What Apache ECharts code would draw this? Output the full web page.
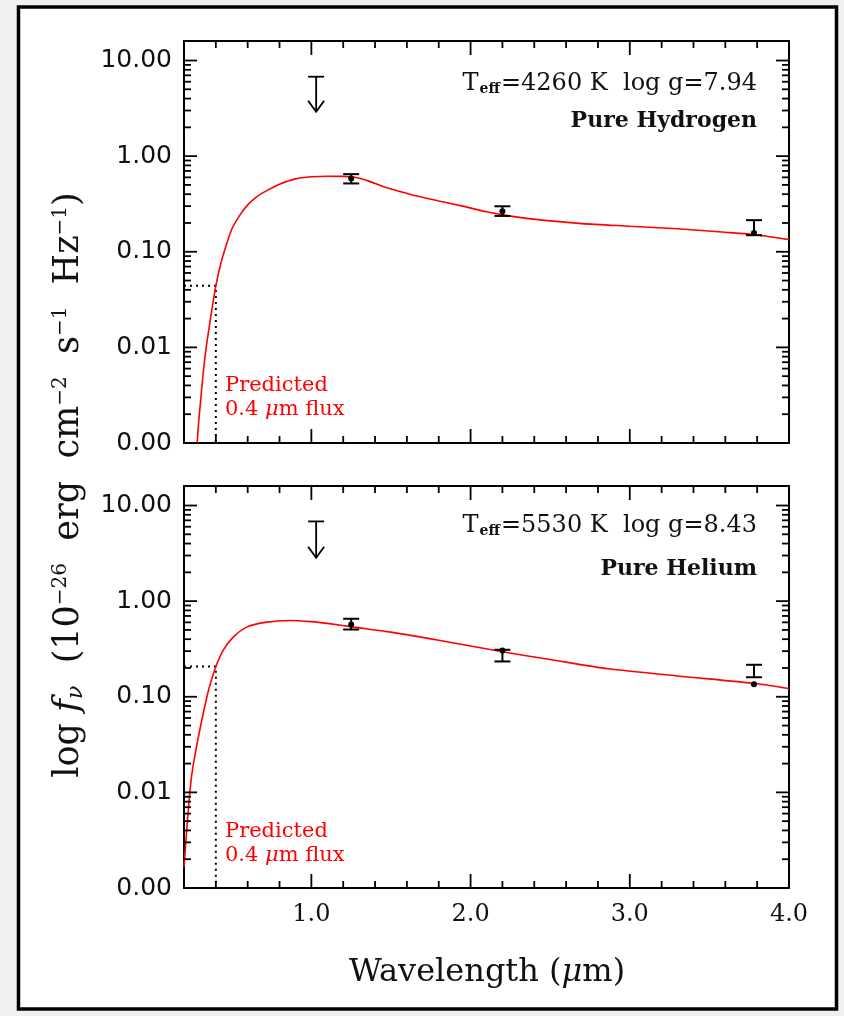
<!DOCTYPE html>
<html>
<head>
<meta charset="utf-8">
<script src="https://cdn.jsdelivr.net/npm/echarts@6/dist/echarts.min.js"></script>
<style>
html,body{margin:0;padding:0;background:#f0f0f0;}
#chart{width:844px;height:1016px;}
</style>
</head>
<body>
<div id="chart"></div>
<script>
// ---------------- data ----------------
const hydrogenWavelength = [0.283, 0.29, 0.30, 0.32, 0.34, 0.36, 0.38, 0.40, 0.43, 0.46, 0.50, 0.55, 0.60, 0.66, 0.72, 0.80, 0.90, 1.00, 1.10, 1.20, 1.28, 1.36, 1.45, 1.55, 1.67, 1.80, 1.95, 2.10, 2.25, 2.45, 2.70, 3.00, 3.30, 3.60, 3.80, 4.00];
const hydrogenFlux = [0.001, 0.0015, 0.0023, 0.0053, 0.0102, 0.0170, 0.028, 0.044, 0.074, 0.110, 0.172, 0.240, 0.309, 0.380, 0.436, 0.508, 0.578, 0.608, 0.617, 0.614, 0.597, 0.548, 0.482, 0.430, 0.380, 0.340, 0.300, 0.262, 0.236, 0.214, 0.197, 0.185, 0.174, 0.160, 0.150, 0.134];

const heliumWavelength = [0.20, 0.21, 0.22, 0.236, 0.25, 0.278, 0.30, 0.32, 0.35, 0.37, 0.40, 0.446, 0.509, 0.594, 0.72, 0.867, 1.00, 1.10, 1.267, 1.50, 1.80, 2.20, 2.50, 2.865, 3.30, 3.80, 4.00];
const heliumFlux = [0.00165, 0.0028, 0.0047, 0.0097, 0.0158, 0.0297, 0.0457, 0.066, 0.110, 0.145, 0.207, 0.305, 0.420, 0.535, 0.603, 0.628, 0.610, 0.585, 0.535, 0.474, 0.390, 0.295, 0.245, 0.196, 0.165, 0.137, 0.122];

const bandWavelength = [1.25, 2.2, 3.78];
const hydrogenObsFlux = [0.584, 0.265, 0.157];
const hydrogenObsLow  = [0.518, 0.237, 0.149];
const hydrogenObsHigh = [0.648, 0.299, 0.214];
const heliumObsFlux = [0.570, 0.305, 0.135];
const heliumObsLow  = [0.505, 0.234, 0.160];
const heliumObsHigh = [0.654, 0.310, 0.216];

const limitWavelength = [1.03];
const hydrogenLimitTop = [6.77];
const hydrogenLimitTip = [2.91];
const heliumLimitTop = [6.82];
const heliumLimitTip = [2.84];

const predictedWavelength = 0.4;
const hydrogenPredicted = 0.044;
const heliumPredicted = 0.207;

const xMajorTicks = [1, 2, 3];
const xMinorTicks = [0.4, 0.6, 0.8, 1.2, 1.4, 1.6, 1.8, 2.2, 2.4, 2.6, 2.8, 3.2, 3.4, 3.6, 3.8];
const yMajorTicks = [0.001, 0.01, 0.1, 1, 10];
const yMinorTicks = [0.002, 0.003, 0.004, 0.005, 0.006, 0.007, 0.008, 0.009,
                     0.02, 0.03, 0.04, 0.05, 0.06, 0.07, 0.08, 0.09,
                     0.2, 0.3, 0.4, 0.5, 0.6, 0.7, 0.8, 0.9,
                     2, 3, 4, 5, 6, 7, 8, 9];

const X_MIN = 0.2, X_MAX = 4.0, Y_MIN = 0.001, Y_MAX = 16;

// ---------------- helpers ----------------
const BLACK = '#000';
const RED = '#ff0000';
const SERIF = 'DejaVu Serif';
const SANS = 'DejaVu Sans';

function xTickData() {
  return xMajorTicks.map(v => [v, 1, 1]).concat(xMinorTicks.map(v => [v, 1, 0]));
}
function yTickData() {
  return yMajorTicks.map(v => [1, v, 1]).concat(yMinorTicks.map(v => [1, v, 0]));
}
function renderXTick(params, api) {
  const cs = params.coordSys;
  const px = api.coord([api.value(0), 1])[0];
  const len = api.value(2) ? 14 : 7;
  const st = {stroke: BLACK, lineWidth: 1.8};
  return {type: 'group', children: [
    {type: 'line', shape: {x1: px, y1: cs.y + cs.height, x2: px, y2: cs.y + cs.height - len}, style: st},
    {type: 'line', shape: {x1: px, y1: cs.y, x2: px, y2: cs.y + len}, style: st}
  ]};
}
function renderYTick(params, api) {
  const cs = params.coordSys;
  const py = api.coord([1, api.value(1)])[1];
  const len = api.value(2) ? 13 : 7;
  const st = {stroke: BLACK, lineWidth: 1.8};
  return {type: 'group', children: [
    {type: 'line', shape: {x1: cs.x, y1: py, x2: cs.x + len, y2: py}, style: st},
    {type: 'line', shape: {x1: cs.x + cs.width, y1: py, x2: cs.x + cs.width - len, y2: py}, style: st}
  ]};
}
function renderErrorBar(params, api) {
  const x = api.value(0);
  const p = api.coord([x, api.value(1)]);
  const lo = api.coord([x, api.value(2)]);
  const hi = api.coord([x, api.value(3)]);
  const c = 8;
  const st = {stroke: BLACK, lineWidth: 2};
  return {type: 'group', children: [
    {type: 'line', shape: {x1: lo[0], y1: lo[1], x2: hi[0], y2: hi[1]}, style: st},
    {type: 'line', shape: {x1: lo[0] - c, y1: lo[1], x2: lo[0] + c, y2: lo[1]}, style: st},
    {type: 'line', shape: {x1: hi[0] - c, y1: hi[1], x2: hi[0] + c, y2: hi[1]}, style: st},
    {type: 'circle', shape: {cx: p[0], cy: p[1], r: 3}, style: {fill: BLACK}}
  ]};
}
function renderLimit(params, api) {
  const x = api.value(0);
  const top = api.coord([x, api.value(1)]);
  const tip = api.coord([x, api.value(2)]);
  const st = {stroke: BLACK, lineWidth: 1.8};
  return {type: 'group', children: [
    {type: 'line', shape: {x1: top[0], y1: top[1], x2: tip[0], y2: tip[1]}, style: st},
    {type: 'line', shape: {x1: top[0] - 8, y1: top[1], x2: top[0] + 8, y2: top[1]}, style: st},
    {type: 'polyline', shape: {points: [[tip[0] - 8, tip[1] - 11], [tip[0], tip[1]], [tip[0] + 8, tip[1] - 11]]}, style: Object.assign({fill: null}, st)}
  ]};
}

const axisLine = {show: true, onZero: false, lineStyle: {color: BLACK, width: 2}};

function xAxes(g, showLabel) {
  const base = {
    gridIndex: g, type: 'value', min: X_MIN, max: X_MAX, interval: 0.2,
    axisLine: axisLine, axisTick: {show: false}, splitLine: {show: false}
  };
  return [
    Object.assign({}, base, {position: 'bottom', axisLabel: {
      show: showLabel, margin: 15, fontFamily: SERIF, fontSize: 24, color: '#111',
      formatter: v => (v >= 1 && Math.abs(v - Math.round(v)) < 1e-6) ? v.toFixed(1) : ''
    }}),
    Object.assign({}, base, {position: 'top', axisLabel: {show: false}})
  ];
}
function yAxes(g) {
  const base = {
    gridIndex: g, type: 'log', logBase: 10, min: Y_MIN, max: Y_MAX,
    axisLine: axisLine, axisTick: {show: false}, splitLine: {show: false}, minorTick: {show: false}
  };
  return [
    Object.assign({}, base, {position: 'left', axisLabel: {
      show: true, margin: 12, fontFamily: SANS, fontSize: 25, color: '#111', showMaxLabel: false,
      formatter: v => {
        const e = Math.log10(v);
        return Math.abs(e - Math.round(e)) < 1e-6 ? v.toFixed(2) : '';
      }
    }}),
    Object.assign({}, base, {position: 'right', axisLabel: {show: false}})
  ];
}

function panelSeries(g, wl, flux, obs, lo, hi, limTop, limTip, pred) {
  const xi = g * 2, yi = g * 2;
  return [
    {type: 'line', xAxisIndex: xi, yAxisIndex: yi, data: wl.map((w, i) => [w, flux[i]]),
     showSymbol: false, smooth: 0.25, lineStyle: {color: RED, width: 1.6}, z: 3, silent: true},
    {type: 'line', xAxisIndex: xi, yAxisIndex: yi,
     data: [[X_MIN, pred], [predictedWavelength, pred], [predictedWavelength, Y_MIN]],
     showSymbol: false, lineStyle: {color: BLACK, width: 2, type: [2, 4]}, z: 2, silent: true},
    {type: 'custom', xAxisIndex: xi, yAxisIndex: yi, renderItem: renderErrorBar,
     data: bandWavelength.map((w, i) => [w, obs[i], lo[i], hi[i]]), encode: {x: 0, y: [1, 2, 3]}, z: 4, silent: true},
    {type: 'custom', xAxisIndex: xi, yAxisIndex: yi, renderItem: renderLimit,
     data: limitWavelength.map((w, i) => [w, limTop[i], limTip[i]]), encode: {x: 0, y: [1, 2]}, z: 4, silent: true},
    {type: 'custom', xAxisIndex: xi, yAxisIndex: yi, renderItem: renderXTick,
     data: xTickData(), encode: {x: 0, y: 1}, z: 5, silent: true, clip: false},
    {type: 'custom', xAxisIndex: xi, yAxisIndex: yi, renderItem: renderYTick,
     data: yTickData(), encode: {x: 0, y: 1}, z: 5, silent: true, clip: false}
  ];
}

function txt(x, y, text, opts) {
  return {type: 'text', x: x, y: y, z: 10, style: Object.assign({text: text, fill: '#111', verticalAlign: 'middle'}, opts)};
}

const teffRich = {
  a: {fontFamily: SERIF, fontSize: 24, fill: '#111', lineHeight: 24},
  s: {fontFamily: SERIF, fontSize: 14, fontWeight: 'bold', fill: '#111', verticalAlign: 'bottom', lineHeight: 14, padding: [0, 1, 0, 1]}
};
const predRich = {
  r: {fontFamily: SERIF, fontSize: 21, fill: RED},
  ri: {fontFamily: SERIF, fontSize: 21, fontStyle: 'italic', fill: RED}
};

const option = {
  animation: false,
  backgroundColor: 'transparent',
  grid: [
    {left: 184, top: 41, width: 605, height: 402},
    {left: 184, top: 486, width: 605, height: 402}
  ],
  xAxis: xAxes(0, false).concat(xAxes(1, true)),
  yAxis: yAxes(0).concat(yAxes(1)),
  series: panelSeries(0, hydrogenWavelength, hydrogenFlux, hydrogenObsFlux, hydrogenObsLow, hydrogenObsHigh,
                      hydrogenLimitTop, hydrogenLimitTip, hydrogenPredicted)
    .concat(panelSeries(1, heliumWavelength, heliumFlux, heliumObsFlux, heliumObsLow, heliumObsHigh,
                        heliumLimitTop, heliumLimitTip, heliumPredicted)),
  graphic: [
    {type: 'rect', z: -100, shape: {x: 18.5, y: 7, width: 818, height: 1002},
     style: {fill: '#fff', stroke: BLACK, lineWidth: 3.5}, silent: true},
    // top panel annotations
    txt(757, 84, '{a|T}{s|eff}{a|=4260 K  log g=7.94}', {align: 'right', rich: teffRich}),
    txt(757, 121, 'Pure Hydrogen', {align: 'right', fontFamily: SERIF, fontSize: 22, fontWeight: 'bold'}),
    txt(225, 386, 'Predicted', {align: 'left', fontFamily: SERIF, fontSize: 21, fill: RED}),
    txt(225, 410, '{r|0.4 }{ri|μ}{r|m flux}', {align: 'left', rich: predRich}),
    // bottom panel annotations
    txt(757, 526, '{a|T}{s|eff}{a|=5530 K  log g=8.43}', {align: 'right', rich: teffRich}),
    txt(757, 569, 'Pure Helium', {align: 'right', fontFamily: SERIF, fontSize: 22, fontWeight: 'bold'}),
    txt(225, 832, 'Predicted', {align: 'left', fontFamily: SERIF, fontSize: 21, fill: RED}),
    txt(225, 856, '{r|0.4 }{ri|μ}{r|m flux}', {align: 'left', rich: predRich}),
    // axis titles
    txt(487, 973, '{n|Wavelength (}{i|μ}{n|m)}', {align: 'center', rich: {
      n: {fontFamily: SERIF, fontSize: 32, fill: '#111'},
      i: {fontFamily: SERIF, fontSize: 32, fontStyle: 'italic', fill: '#111'}
    }}),
    {type: 'text', x: 69, y: 485, rotation: Math.PI / 2, z: 10, style: {
      text: '{n|log }{i|f}{v|ν}{n|  (10}{p|−26}{n|  erg  cm}{p|−2}{n|  s}{p|−1}{n|  Hz}{p|−1}{n|)}',
      align: 'center', verticalAlign: 'middle',
      rich: {
        n: {fontFamily: SERIF, fontSize: 35, fill: '#111', lineHeight: 37},
        i: {fontFamily: SERIF, fontSize: 35, fontStyle: 'italic', fill: '#111', lineHeight: 37},
        v: {fontFamily: SERIF, fontSize: 22, fontStyle: 'italic', fill: '#111', verticalAlign: 'bottom', lineHeight: 22},
        p: {fontFamily: SERIF, fontSize: 20, fill: '#111', verticalAlign: 'top', lineHeight: 20}
      }
    }}
  ]
};

const chart = echarts.init(document.getElementById('chart'), null, {renderer: 'canvas'});
chart.setOption(option);
</script>
</body>
</html>
